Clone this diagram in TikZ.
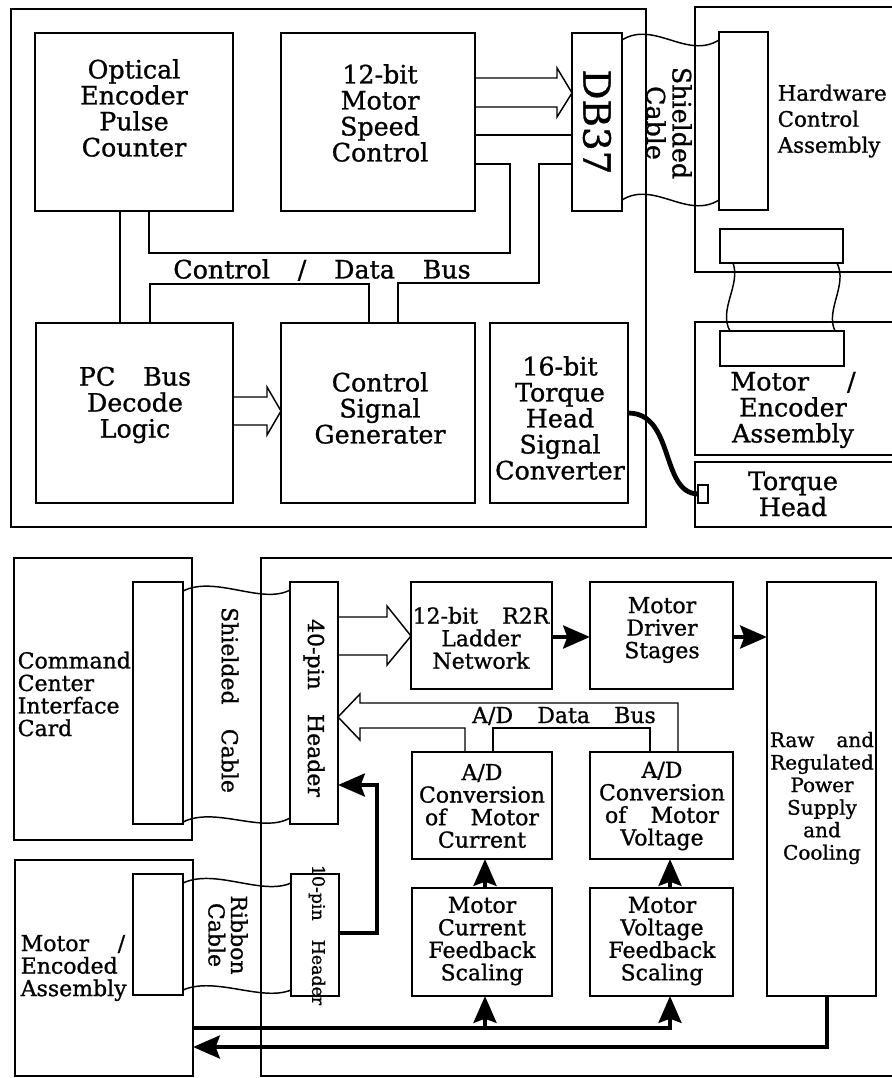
\documentclass[tikz,border=0pt]{standalone}
\usepackage{fontspec}
\setmainfont{DejaVu Serif}[FakeBold=1]
\usetikzlibrary{arrows.meta}
\newcommand\topf{\fontsize{19}{19.5}\selectfont}
\newcommand\botf{\fontsize{16.5}{16.9}\selectfont}
\newcommand\gp{\hspace{1.1em}}
\begin{document}
\begin{tikzpicture}[x=0.75pt,y=-0.75pt,line width=1.1pt,
  box/.style={draw, inner sep=0pt, outer sep=0pt},
  wh/.style 2 args={minimum width=#1*0.75pt, minimum height=#2*0.75pt},
  txt/.style={inner sep=0pt, align=center},
  thk/.style={line width=3.6pt},
  tarr/.style={line width=3.6pt, -{Stealth[length=20pt,width=17pt,inset=3pt]}},
]
\useasboundingbox (0,0) rectangle (892,1078);
\clip (0,0) rectangle (892,1078);

% ---------- top section ----------
\node[box, wh={635}{518}] (pc) at (328.5,268) {};
\node[box, wh={200}{265}] (hw) at (795,139.5) {};
\node[box, wh={49}{178}] (hwc) at (743.5,121) {};
\node[box, wh={123}{34}] (hwb) at (781.5,246) {};
\node[box, wh={50}{178}] (db) at (597,122) {};
\node[box, wh={198}{178}] (opt) at (134,122) {};
\node[box, wh={194}{178}] (spd) at (378,122) {};
\node[box, wh={197}{180}] (dec) at (134.5,413) {};
\node[box, wh={194}{180}] (csg) at (378,413) {};
\node[box, wh={138}{180}] (tqc) at (559,413) {};
\node[box, wh={200}{133}] (mea) at (795,388.5) {};
\node[box, wh={124}{35}] (meac) at (782,348.5) {};
\node[box, wh={200}{65}] (th) at (795,494.5) {};
\node[box, wh={10}{18}] (thc) at (703,494) {};

\node[txt, font=\topf] (optT) at (134,108) {Optical\\Encoder\\Pulse\\Counter};
\node[txt, font=\topf] (spdT) at (380,113) {12-bit\\Motor\\Speed\\Control};
\node[txt, font=\topf] (decT) at (135,405) {PC\gp Bus\\Decode\\Logic};
\node[txt, font=\topf] (csgT) at (380,408) {Control\\Signal\\Generater};
\node[txt, font=\topf] (tqcT) at (560,418) {16-bit\\Torque\\Head\\Signal\\Converter};
\node[txt, font=\topf] (busT) at (322,270) {Control\gp/\gp Data\gp Bus};
\node[txt, font=\fontsize{28}{30}\selectfont, rotate=-90] (dbT) at (597,122) {DB37};
\node[txt, font=\topf, rotate=-90] (scT) at (669,123) {Shielded\\Cable};
\node[txt, font=\fontsize{16}{19.5}\selectfont, align=left, anchor=west] (hwT) at (777,121) {Hardware\\Control\\Assembly};
\node[txt, font=\topf] (meaT) at (793,410) {Motor\hspace{1.5em}/\\Encoder\\Assembly};
\node[txt, font=\topf] (thT) at (793,494) {Torque\\Head};

% top connectors
\draw (spd.east |- 0,78) -- (557,78) -- (557,68) -- (db.west |- 0,93) -- (557,117) -- (557,107) -- (spd.east |- 0,107);
\draw (spd.east |- 0,135) -- (db.west |- 0,135);
\draw (opt.south -| 120,0) -- (dec.north -| 120,0);
\draw (opt.south -| 149,0) -- (149,253) -- (510,253) -- (510,164) -- (spd.east |- 0,164);
\draw (db.west |- 0,164) -- (539,164) -- (539,283) -- (398,283) -- (csg.north -| 398,0);
\draw (dec.north -| 150,0) -- (150,284) -- (369,284) -- (csg.north -| 369,0);
\draw (dec.east |- 0,397) -- (267,397) -- (267,387) -- (csg.west |- 0,411) -- (267,435) -- (267,425) -- (dec.east |- 0,425);
\draw (db.east |- 0,40) .. controls (654,20) and (687,60) .. (hwc.west |- 0,40);
\draw (db.east |- 0,200) .. controls (654,180) and (687,220) .. (hwc.west |- 0,200);
\draw (hwb.south -| 733,0) .. controls (741,285) and (718,310) .. (meac.north -| 730,0);
\draw (hwb.south -| 837,0) .. controls (848,285) and (825,310) .. (meac.north -| 835,0);
\draw[thk] (tqc.east |- 0,413) .. controls (675,413) and (660,493) .. (thc.west);

% ---------- bottom section ----------
\node[box, wh={178}{282}] (ccb) at (103,699) {};
\node[box, wh={50}{242}] (ccc) at (158,703) {};
\node[box, wh={178}{216}] (mab) at (104,968) {};
\node[box, wh={50}{121}] (mac) at (158,934.5) {};
\node[box, wh={660}{518}] (ctl) at (591,817) {};
\node[box, wh={48}{242}] (h40) at (314,703) {};
\node[box, wh={48}{122}] (h10) at (315,935) {};
\node[box, wh={141}{107}] (r2r) at (481.5,635.5) {};
\node[box, wh={143}{107}] (mds) at (661.5,635.5) {};
\node[box, wh={109}{414}] (pwr) at (821.5,789) {};
\node[box, wh={140}{107}] (adc) at (482,805.5) {};
\node[box, wh={143}{107}] (adv) at (661.5,805.5) {};
\node[box, wh={140}{108}] (cfb) at (482,942) {};
\node[box, wh={143}{108}] (vfb) at (661.5,942) {};

\node[txt, font=\botf, align=left, anchor=west] (ccT) at (17,694) {Command\\Center\\Interface\\Card};
\node[txt, font=\botf, rotate=-90] (sc2T) at (230,700) {Shielded\gp Cable};
\node[txt, font=\botf, rotate=-90] (h40T) at (314,708) {40-pin\gp Header};
\node[txt, font=\botf, rotate=-90] (rcT) at (228,935) {Ribbon\\Cable};
\node[txt, font=\fontsize{13}{14}\selectfont, rotate=-90] (h10T) at (317,935) {10-pin\gp Header};
\node[txt, font=\botf, align=left, anchor=west] (maT) at (20,968) {Motor\hspace{1.3em}/\\Encoded\\Assembly};
\node[txt, font=\botf] (r2rT) at (481,638) {12-bit\gp R2R\\Ladder\\Network};
\node[txt, font=\botf] (mdsT) at (662,630) {Motor\\Driver\\Stages};
\node[txt, font=\botf] (adbT) at (564,716) {A/D\gp Data\gp Bus};
\node[txt, font=\botf] (adcT) at (482,806) {A/D\\Conversion\\of\gp Motor\\Current};
\node[txt, font=\botf] (advT) at (662,806) {A/D\\Conversion\\of\gp Motor\\Voltage};
\node[txt, font=\botf] (cfbT) at (482,941) {Motor\\Current\\Feedback\\Scaling};
\node[txt, font=\botf] (vfbT) at (662,941) {Motor\\Voltage\\Feedback\\Scaling};
\node[txt, font=\fontsize{15}{16.9}\selectfont] (pwrT) at (822,798) {Raw\gp and\\Regulated\\Power\\Supply\\and\\Cooling};

% bottom connectors
\draw (ccc.east |- 0,591) .. controls (215,575) and (262,605) .. (h40.west |- 0,590);
\draw (ccc.east |- 0,822) .. controls (215,806) and (262,834) .. (h40.west |- 0,818);
\draw (mac.east |- 0,883) .. controls (215,868) and (262,896) .. (h10.west |- 0,883);
\draw (mac.east |- 0,990) .. controls (215,976) and (262,1002) .. (h10.west |- 0,990);
\draw (h40.east |- 0,617) -- (387,617) -- (387,606) -- (r2r.west |- 0,636) -- (387,665) -- (387,655) -- (h40.east |- 0,655);
\draw (adv.north -| 678,0) -- (678,703) -- (360,703) -- (360,694) -- (h40.east |- 0,717) -- (360,740) -- (360,728) -- (465,728) -- (adc.north -| 465,0);
\draw (adc.north -| 493,0) -- (493,728) -- (650,728) -- (adv.north -| 650,0);
\draw[tarr] (r2r.east |- 0,637) -- (mds.west |- 0,637);
\draw[tarr] (mds.east |- 0,637) -- (pwr.west |- 0,637);
\draw[tarr] (h10.east |- 0,933) -- (377,933) -- (377,785) -- (h40.east |- 0,785);
\draw[tarr] (cfb.north -| 485,0) -- (adc.south -| 485,0);
\draw[tarr] (vfb.north -| 670,0) -- (adv.south -| 670,0);
\coordinate (j1) at (485,1028);
\draw[tarr] (mab.east |- 0,1028) -| (vfb.south -| 670,0);
\draw[tarr] (j1) -- (cfb.south -| 485,0);
\draw[tarr] (pwr.south -| 827,0) |- (mab.east |- 0,1047);
\end{tikzpicture}
\end{document}
